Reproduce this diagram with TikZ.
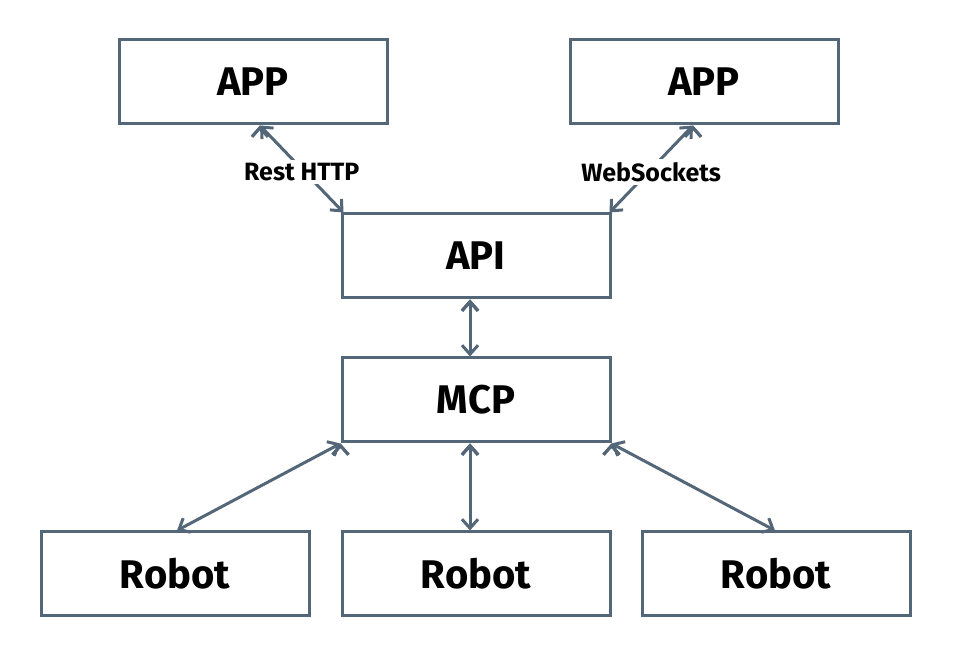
\documentclass[tikz,border=0pt]{standalone}
\usepackage{fontspec}
\setmainfont{Fira Sans}
\usetikzlibrary{arrows.meta,positioning}
\definecolor{slate}{HTML}{546778}

\begin{document}
\begin{tikzpicture}[x=0.5pt,y=-0.5pt,node distance=72pt,on grid,
    >={Straight Barb[length=4.5pt,width=8pt]}]
  \tikzstyle{box}=[rectangle,draw=slate,line width=1.5pt,minimum width=134pt,minimum height=42pt,font=\fontsize{20}{24}\selectfont\bfseries]
  \tikzstyle{link}=[<->,draw=slate,line width=1.5pt]
  \tikzstyle{tag}=[fill=white,inner sep=1.5pt,yshift=-1.5pt,font=\fontsize{12.5}{14}\selectfont\bfseries]
  \useasboundingbox (0,0) rectangle (954,656);

  \node[box]  (api)    at (476,256)              {API};
  \node[box]  (mcp)    [below=of api]            {MCP};
  \node[box]  (robotB) [below=87pt of mcp]       {Robot};
  \node[box]  (robotA) [left=150.5pt of robotB]  {Robot};
  \node[box]  (robotC) [right=150pt of robotB]   {Robot};
  \node[box]  (appL)   [above left=87pt and 111.5pt of api]  {APP};
  \node[box]  (appR)   [above right=87pt and 114pt of api]   {APP};

  \path[link] ([xshift=3.5pt]appL.south) edge node[tag] {Rest HTTP} ([xshift=1.5pt]api.north west);
  \path[link] ([xshift=-5.5pt]appR.south) edge node[tag] {WebSockets} ([xshift=-1pt]api.north east);
  \path[link] ([xshift=-3pt]api.south) edge ([xshift=-3pt]mcp.north);
  \path[link] (mcp.south west) edge ([xshift=1pt]robotA.north);
  \path[link] ([xshift=-3pt]mcp.south) edge ([xshift=-3pt]robotB.north);
  \path[link] (mcp.south east) edge ([xshift=-0.5pt]robotC.north);
\end{tikzpicture}
\end{document}
